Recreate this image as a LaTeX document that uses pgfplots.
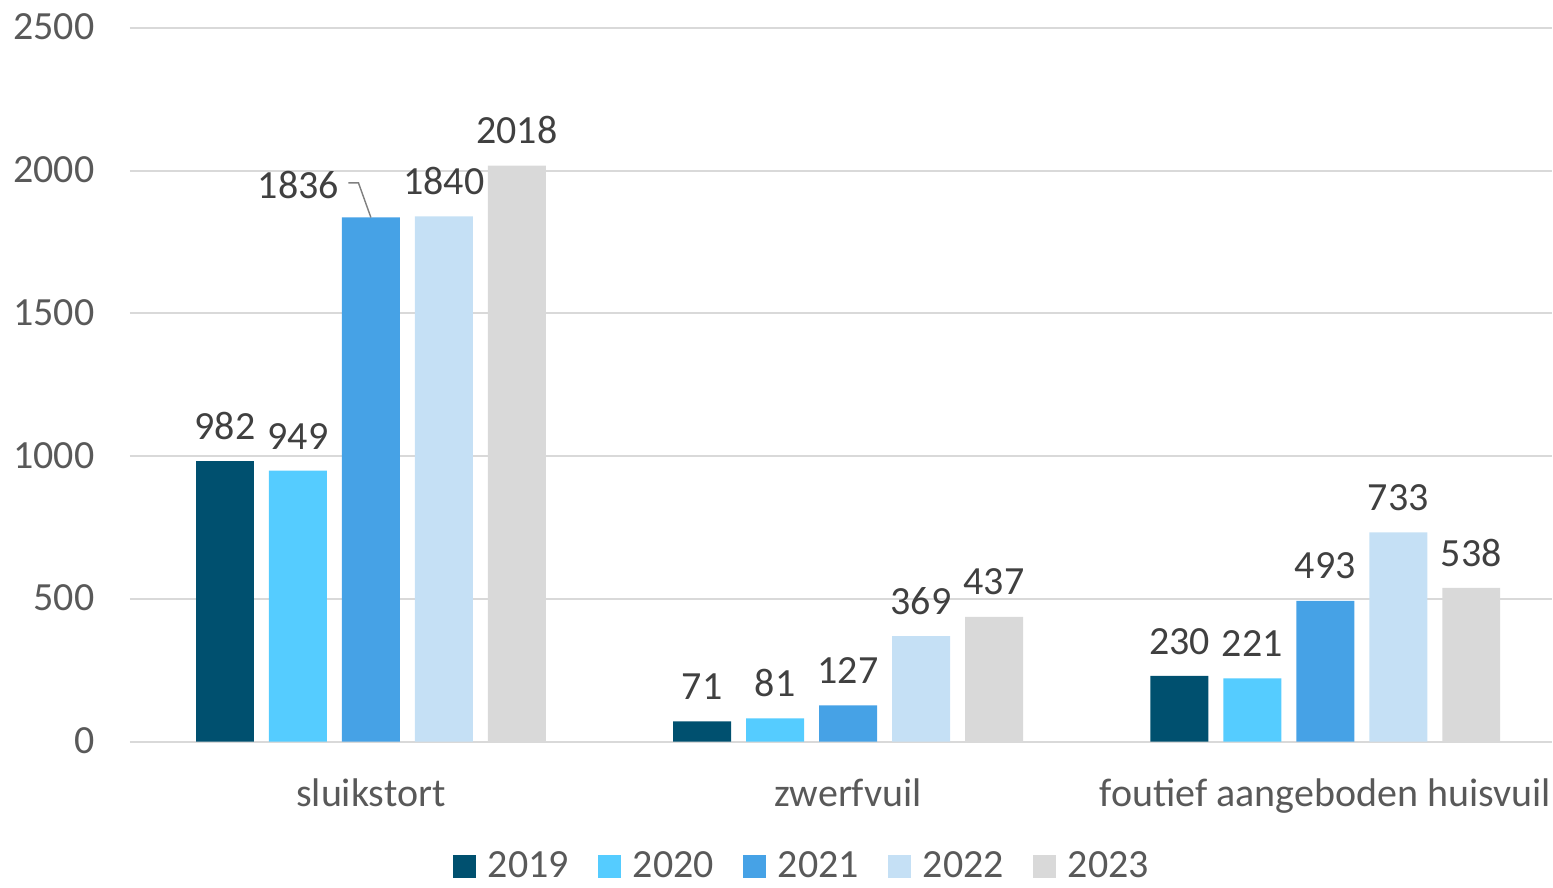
\documentclass[border=0pt]{standalone}
\usepackage{pgfplots}
\pgfplotsset{compat=1.18}
\usepackage{fontspec}
\setmainfont{Carlito}
\definecolor{c19}{HTML}{00506F}
\definecolor{c20}{HTML}{55CCFF}
\definecolor{c21}{HTML}{46A2E6}
\definecolor{c22}{HTML}{C5E0F5}
\definecolor{c23}{HTML}{D9D9D9}
\definecolor{tickgray}{HTML}{595959}
\definecolor{labgray}{HTML}{404040}
\definecolor{gridgray}{HTML}{D9D9D9}
\begin{document}
\begin{tikzpicture}
\begin{axis}[name=ax,
  scale only axis, width=498.05pt, height=249.9pt,
  ymin=0, ymax=2500, ytick={0,500,1000,1500,2000,2500},
  xmin=-0.505, xmax=2.475,
  xtick={0,1,2},
  xticklabels={sluikstort, zwerfvuil, foutief aangeboden huisvuil},
  ybar=5.25pt, bar width=20.3pt,
  axis line style={draw=none}, major tick length=0pt,
  ymajorgrids, grid style={line width=0.7pt, color=gridgray},
  tick label style={font=\fontsize{14}{16}\selectfont, text=tickgray},
  /pgf/number format/assume math mode=true,
  /pgf/number format/1000 sep={},
  yticklabel style={anchor=east, inner sep=0pt, xshift=-12.25pt, yshift=-1pt},
  xticklabel style={anchor=base, inner sep=0pt, yshift=-22.6pt},
  typeset ticklabels with strut=false,
  nodes near coords,
  every node near coord/.append style={font=\fontsize{14}{16}\selectfont, text=labgray, inner sep=0pt, anchor=south, yshift=7.35pt},
  clip=false,
  legend columns=-1,
  legend style={draw=none, at={(0.4740,0)}, anchor=center, yshift=-43.8pt, inner sep=0pt,
    font=\fontsize{14}{16}\selectfont, text=tickgray,
    /tikz/every even column/.append style={column sep=8.3pt}},
  legend image code/.code={\fill[#1,draw=none] (0pt,-4pt) rectangle (8pt,4pt); \path (10.1pt,0pt);},
]
\addplot[fill=c19, draw=none] coordinates {(0,982) (1,71) (2,230)};
\addplot[fill=c20, draw=none] coordinates {(0,949) (1,81) (2,221)};
\addplot[fill=c21, draw=none, coordinate style/.condition={\coordindex==0}{xshift=-25.4pt, yshift=-0.85pt}] coordinates {(0,1836) (1,127) (2,493)};
\addplot[fill=c22, draw=none] coordinates {(0,1840) (1,369) (2,733)};
\addplot[fill=c23, draw=none] coordinates {(0,2018) (1,437) (2,538)};
\legend{2019,2020,2021,2022,2023}
\draw[gray, line width=0.5pt] (axis cs:0,1836) -- (axis cs:-0.026,1957) -- (axis cs:-0.047,1957);
\end{axis}
\path (ax.south west) ++(-45.5pt,-48.65pt) coordinate (bl);
\path (ax.north east) ++(0,9.8pt) coordinate (tr);
\path[use as bounding box] (bl) rectangle (tr);
\end{tikzpicture}
\end{document}
